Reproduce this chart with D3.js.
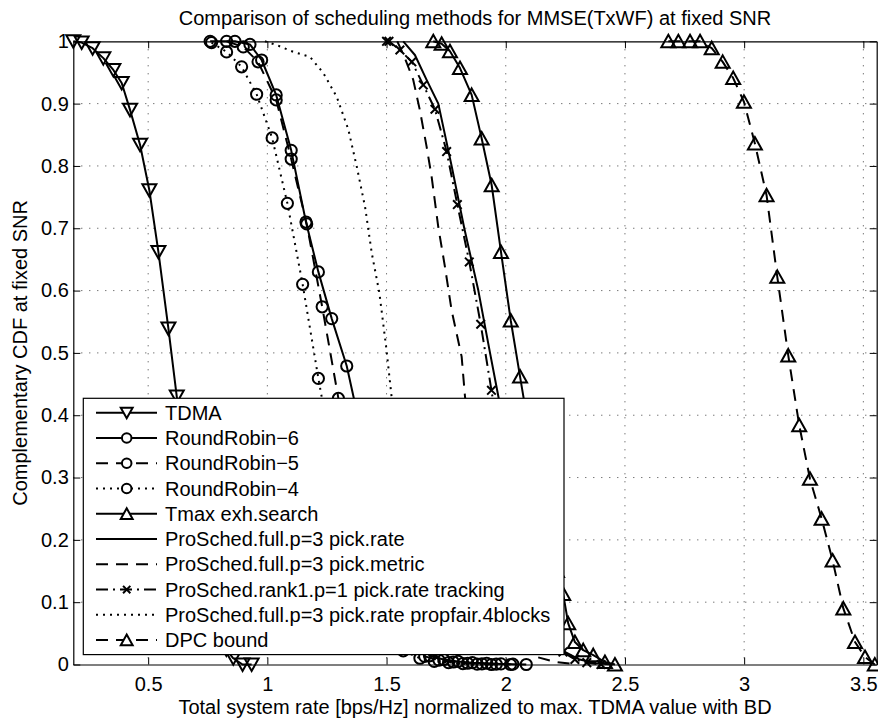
<!DOCTYPE html>
<html>
<head>
<meta charset="utf-8">
<script src="https://cdn.jsdelivr.net/npm/d3@7"></script>
<style>
  body { margin: 0; background: #fff; }
  text { font-family: "Liberation Sans", Arial, Helvetica, sans-serif; fill: #000; }
</style>
</head>
<body>
<svg id="chart" width="878" height="720"></svg>
<script>
// ---- axis ticks ----
const xTicks = [0.5, 1, 1.5, 2, 2.5, 3, 3.5];
const yTicks = [0, 0.1, 0.2, 0.3, 0.4, 0.5, 0.6, 0.7, 0.8, 0.9, 1];
const xDomain = [0.186, 3.556];
const yDomain = [0, 1];

const titleText = "Comparison of scheduling methods for MMSE(TxWF) at fixed SNR";
const xLabelText = "Total system rate [bps/Hz] normalized to max. TDMA value with BD";
const yLabelText = "Complementary CDF at fixed SNR";

const seriesNames = [
  "TDMA",
  "RoundRobin\u22126",
  "RoundRobin\u22125",
  "RoundRobin\u22124",
  "Tmax exh.search",
  "ProSched.full.p=3 pick.rate",
  "ProSched.full.p=3 pick.metric",
  "ProSched.rank1.p=1 pick.rate tracking",
  "ProSched.full.p=3 pick.rate propfair.4blocks",
  "DPC bound"
];

// ---- series values (rate, complementary CDF) ----
const tdmaX = [0.186, 0.221, 0.267, 0.312, 0.354, 0.389, 0.424, 0.466, 0.505, 0.543, 0.585, 0.620, 0.655, 0.690, 0.725, 0.760, 0.795, 0.828, 0.857, 0.896, 0.934];
const tdmaY = [1.0, 0.998, 0.989, 0.973, 0.954, 0.933, 0.890, 0.834, 0.761, 0.662, 0.539, 0.430, 0.330, 0.235, 0.155, 0.092, 0.050, 0.024, 0.010, 0.0, 0.0];

const rr6X = [0.760, 0.864, 0.927, 0.976, 1.037, 1.100, 1.162, 1.214, 1.270, 1.333, 1.39, 1.45, 1.51, 1.57, 1.63, 1.68, 1.74, 1.80, 1.86, 1.92, 1.98, 2.03, 2.086];
const rr6Y = [1.0, 1.0, 0.995, 0.970, 0.914, 0.825, 0.710, 0.630, 0.555, 0.479, 0.38, 0.28, 0.19, 0.11, 0.05, 0.014, 0.008, 0.005, 0.003, 0.002, 0.001, 0.0005, 0.0];

const rr5X = [0.829, 0.899, 0.961, 1.037, 1.100, 1.165, 1.230, 1.298, 1.36, 1.42, 1.48, 1.54, 1.60, 1.66, 1.72, 1.78, 1.84, 1.90, 1.96, 2.02];
const rr5Y = [1.0, 0.991, 0.967, 0.906, 0.811, 0.707, 0.574, 0.427, 0.33, 0.23, 0.15, 0.085, 0.04, 0.013, 0.007, 0.004, 0.002, 0.001, 0.0005, 0.0];

const rr4X = [0.766, 0.829, 0.892, 0.955, 1.020, 1.084, 1.148, 1.214, 1.27, 1.33, 1.39, 1.45, 1.51, 1.57, 1.64, 1.70, 1.76, 1.82, 1.88, 1.94];
const rr4Y = [0.998, 0.983, 0.959, 0.915, 0.845, 0.740, 0.610, 0.459, 0.34, 0.24, 0.16, 0.095, 0.05, 0.022, 0.010, 0.005, 0.003, 0.0015, 0.0005, 0.0];

const tmaxX = [1.696, 1.731, 1.766, 1.808, 1.857, 1.899, 1.941, 1.980, 2.021, 2.060, 2.10, 2.14, 2.18, 2.215, 2.241, 2.262, 2.290, 2.325, 2.367, 2.416, 2.458];
const tmaxY = [1.0, 0.996, 0.984, 0.957, 0.914, 0.844, 0.769, 0.662, 0.552, 0.462, 0.37, 0.28, 0.20, 0.15, 0.113, 0.066, 0.036, 0.023, 0.015, 0.004, 0.0];

const rateX = [1.570, 1.619, 1.668, 1.717, 1.773, 1.826, 1.885, 1.934, 1.969, 2.02, 2.06, 2.10, 2.15, 2.20, 2.25, 2.31, 2.38, 2.45];
const rateY = [1.0, 0.978, 0.938, 0.9, 0.8, 0.7, 0.6, 0.5, 0.43, 0.33, 0.24, 0.16, 0.09, 0.045, 0.02, 0.008, 0.002, 0.0];

const metricX = [1.545, 1.575, 1.612, 1.640, 1.668, 1.689, 1.717, 1.745, 1.773, 1.815, 1.829, 1.86, 1.90, 1.95, 2.00, 2.06, 2.13, 2.21, 2.30];
const metricY = [1.0, 0.975, 0.938, 0.889, 0.831, 0.783, 0.702, 0.638, 0.568, 0.494, 0.43, 0.35, 0.25, 0.15, 0.08, 0.035, 0.012, 0.004, 0.0];

const rank1X = [1.500, 1.510, 1.556, 1.606, 1.654, 1.703, 1.752, 1.797, 1.847, 1.895, 1.94, 1.98, 2.02, 2.07, 2.12, 2.18, 2.24, 2.29, 2.34, 2.40];
const rank1Y = [1.0, 1.0, 0.986, 0.967, 0.930, 0.891, 0.823, 0.738, 0.646, 0.546, 0.44, 0.34, 0.25, 0.16, 0.09, 0.045, 0.02, 0.008, 0.003, 0.0];

const propfairX = [0.99, 1.039, 1.109, 1.179, 1.235, 1.291, 1.340, 1.375, 1.410, 1.438, 1.470, 1.500, 1.521, 1.54, 1.56, 1.59, 1.63, 1.68, 1.75, 1.85];
const propfairY = [1.0, 0.994, 0.983, 0.975, 0.949, 0.911, 0.858, 0.799, 0.734, 0.660, 0.596, 0.504, 0.430, 0.33, 0.22, 0.12, 0.05, 0.015, 0.004, 0.0];

const dpcX = [2.682, 2.724, 2.773, 2.815, 2.864, 2.910, 2.954, 2.999, 3.045, 3.094, 3.139, 3.185, 3.231, 3.276, 3.325, 3.371, 3.416, 3.465, 3.507, 3.548];
const dpcY = [1.0, 1.0, 1.0, 1.0, 0.989, 0.967, 0.941, 0.903, 0.836, 0.753, 0.622, 0.496, 0.384, 0.298, 0.234, 0.167, 0.090, 0.036, 0.012, 0.0];

// ---- line styles ----
const DASH = "12,8", DOT = "2,5", DASHDOT = "12,5,2,5";
const series = [
  { name: seriesNames[0], xs: tdmaX, ys: tdmaY, dash: null, marker: "tridown" },
  { name: seriesNames[1], xs: rr6X, ys: rr6Y, dash: null, marker: "circle" },
  { name: seriesNames[2], xs: rr5X, ys: rr5Y, dash: DASH, marker: "circle" },
  { name: seriesNames[3], xs: rr4X, ys: rr4Y, dash: DOT, marker: "circle" },
  { name: seriesNames[4], xs: tmaxX, ys: tmaxY, dash: null, marker: "triup" },
  { name: seriesNames[5], xs: rateX, ys: rateY, dash: null, marker: null },
  { name: seriesNames[6], xs: metricX, ys: metricY, dash: DASH, marker: null },
  { name: seriesNames[7], xs: rank1X, ys: rank1Y, dash: DASHDOT, marker: "x" },
  { name: seriesNames[8], xs: propfairX, ys: propfairY, dash: DOT, marker: null },
  { name: seriesNames[9], xs: dpcX, ys: dpcY, dash: DASH, marker: "triup" }
];

// ---- layout ----
const plotLeft = 73.3, plotRight = 876.7, plotTop = 41.3, plotBottom = 664.5;
const x = d3.scaleLinear().domain(xDomain).range([plotLeft, plotRight]);
const y = d3.scaleLinear().domain(yDomain).range([plotBottom, plotTop]);

const svg = d3.select("#chart");
const FS = 20;

// grid
const grid = svg.append("g").attr("stroke", "#000").attr("stroke-width", 1)
  .attr("stroke-dasharray", "1,7").attr("fill", "none").attr("opacity", 0.75);
grid.selectAll("line.gx").data(xTicks).join("line")
  .attr("x1", d => x(d)).attr("x2", d => x(d)).attr("y1", plotTop).attr("y2", plotBottom);
grid.selectAll("line.gy").data(yTicks.filter(v => v > 0 && v < 1)).join("line")
  .attr("x1", plotLeft).attr("x2", plotRight).attr("y1", d => y(d)).attr("y2", d => y(d));

// axes with inward ticks on all four sides
const fmt = d => d3.format("")(+d.toFixed(1));
const axB = svg.append("g").attr("transform", `translate(0,${plotBottom})`)
  .call(d3.axisBottom(x).tickValues(xTicks).tickSizeInner(-7).tickSizeOuter(0).tickPadding(12).tickFormat(fmt));
const axT = svg.append("g").attr("transform", `translate(0,${plotTop})`)
  .call(d3.axisTop(x).tickValues(xTicks).tickSizeInner(-7).tickSizeOuter(0).tickFormat(""));
const axL = svg.append("g").attr("transform", `translate(${plotLeft},0)`)
  .call(d3.axisLeft(y).tickValues(yTicks).tickSizeInner(-7).tickSizeOuter(0).tickPadding(4.5).tickFormat(fmt));
const axR = svg.append("g").attr("transform", `translate(${plotRight},0)`)
  .call(d3.axisRight(y).tickValues(yTicks).tickSizeInner(-7).tickSizeOuter(0).tickFormat(""));
[axB, axT, axL, axR].forEach(g => {
  g.attr("font-size", FS).attr("font-family", null);
  g.selectAll("path.domain").attr("stroke", "#000").attr("stroke-width", 1.2);
  g.selectAll(".tick line").attr("stroke", "#000").attr("stroke-width", 1);
  g.selectAll(".tick text").attr("fill", "#000");
});

// markers
function drawMarker(g, type, cx, cy, s) {
  if (type === "circle") {
    g.append("circle").attr("cx", cx).attr("cy", cy).attr("r", 5.6 * s);
  } else if (type === "triup") {
    g.append("path").attr("d", `M${cx},${cy - 6.5 * s}L${cx + 7 * s},${cy + 6 * s}L${cx - 7 * s},${cy + 6 * s}Z`);
  } else if (type === "tridown") {
    g.append("path").attr("d", `M${cx},${cy + 6.5 * s}L${cx + 7 * s},${cy - 6 * s}L${cx - 7 * s},${cy - 6 * s}Z`);
  } else if (type === "x") {
    const r = 4.3 * s;
    g.append("path").attr("d", `M${cx - r},${cy - r}L${cx + r},${cy + r}M${cx - r},${cy + r}L${cx + r},${cy - r}`);
  }
}

const line = d3.line().x(d => x(d[0])).y(d => y(d[1]));
const plotG = svg.append("g");
series.forEach(s => {
  const pts = s.xs.map((v, i) => [v, s.ys[i]]);
  plotG.append("path").datum(pts).attr("d", line)
    .attr("fill", "none").attr("stroke", "#000").attr("stroke-width", 2)
    .attr("stroke-linejoin", "round")
    .attr("stroke-dasharray", s.dash);
  if (s.marker) {
    const mg = plotG.append("g").attr("fill", "none").attr("stroke", "#000").attr("stroke-width", 2);
    pts.forEach(p => drawMarker(mg, s.marker, x(p[0]), y(p[1]), 1));
  }
});

// title and axis labels
svg.append("text").attr("x", (plotLeft + plotRight) / 2).attr("y", 25)
  .attr("text-anchor", "middle").attr("font-size", FS).text(titleText);
svg.append("text").attr("x", (plotLeft + plotRight) / 2).attr("y", 714)
  .attr("text-anchor", "middle").attr("font-size", FS).text(xLabelText);
svg.append("text").attr("transform", `translate(26.5,${(plotTop + plotBottom) / 2}) rotate(-90)`)
  .attr("text-anchor", "middle").attr("font-size", FS).text(yLabelText);

// legend
const lgX = 83.3, lgY = 398.3, lgW = 480.7, lgH = 256.3;
const lg = svg.append("g");
lg.append("rect").attr("x", lgX).attr("y", lgY).attr("width", lgW).attr("height", lgH)
  .attr("fill", "#fff").attr("stroke", "#000").attr("stroke-width", 1.2);
series.forEach((s, i) => {
  const cy = 412.8 + i * 25.25;
  lg.append("line").attr("x1", 96).attr("x2", 157).attr("y1", cy).attr("y2", cy)
    .attr("stroke", "#000").attr("stroke-width", 2).attr("stroke-dasharray", s.dash);
  if (s.marker) {
    const mg = lg.append("g").attr("fill", "#fff").attr("stroke", "#000").attr("stroke-width", 2);
    drawMarker(mg, s.marker, 126.7, cy, 0.85);
  }
  lg.append("text").attr("x", 165).attr("y", cy + 7).attr("font-size", FS).text(s.name);
});
</script>
</body>
</html>
